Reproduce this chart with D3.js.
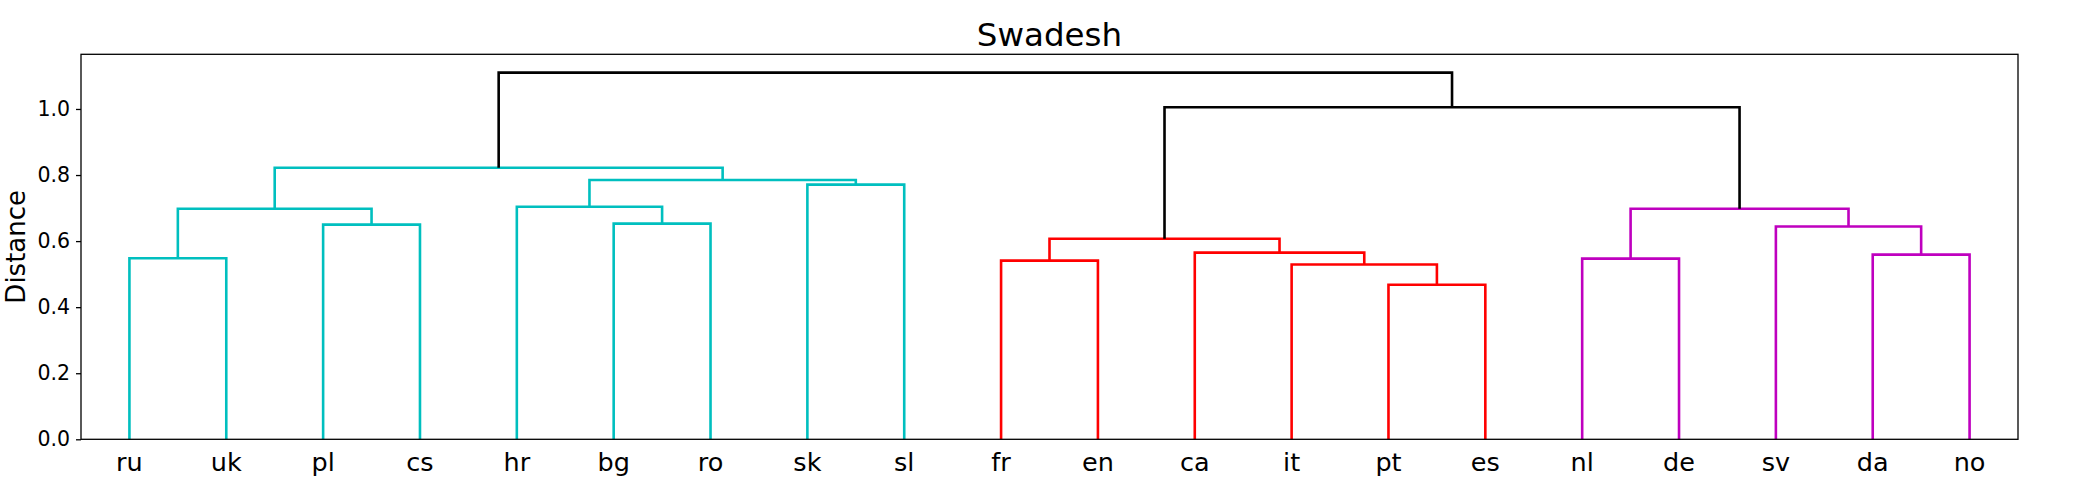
<!DOCTYPE html>
<html lang="en">
	<head>
		<meta charset="utf-8">
		<title>Swadesh</title>
		<script type="text/javascript" src="https://cdn.jsdelivr.net/npm/d3@7"></script>
		<style>
			body { margin: 0; background: #fff; }
			text { font-family: "DejaVu Sans", sans-serif; fill: #000; }
		</style>
	</head>
	<body>
	<script type="text/javascript">
			//data: leaf labels in dendrogram order
			var leaves = ["ru", "uk", "pl", "cs", "hr", "bg", "ro", "sk", "sl", "fr",
										"en", "ca", "it", "pt", "es", "nl", "de", "sv", "da", "no"];
			//merges like a linkage matrix: [child a, child b, distance]
			//ids 0..19 are leaves, merge i gets id 20+i
			var merges = [
				[13, 14, 0.468],
				[12, 20, 0.529],
				[9, 10, 0.541],
				[15, 16, 0.547],
				[0, 1, 0.548],
				[18, 19, 0.559],
				[11, 21, 0.565],
				[22, 26, 0.607],
				[17, 25, 0.644],
				[2, 3, 0.650],
				[5, 6, 0.653],
				[24, 29, 0.698],
				[23, 28, 0.698],
				[4, 30, 0.704],
				[7, 8, 0.771],
				[33, 34, 0.785],
				[31, 35, 0.822],
				[27, 32, 1.005],
				[36, 37, 1.110]
			];
			var yTicks = [0.0, 0.2, 0.4, 0.6, 0.8, 1.0];
			var colorThreshold = 0.9;
			var palette = ["#00bfbf", "#ff0000", "#bf00bf"];
			var aboveColor = "#000000";

			//setup (note: "top" is taken by window.top, so plot* names)
			var W = 2080, H = 494;
			var plotLeft = 81, plotRight = 2018, plotTop = 54.3, plotBottom = 439.3;
			var svg = d3.select("body")
									.append("svg")
									.attr("width", W)
									.attr("height", H);

			var n = leaves.length;
			var maxH = d3.max(merges, function(m) { return m[2]; });
			var x = d3.scaleLinear().domain([0, n]).range([plotLeft, plotRight]);
			var y = d3.scaleLinear().domain([0, maxH * 1.05]).range([plotBottom, plotTop]);

			//node positions
			var nodeX = [], nodeY = [];
			leaves.forEach(function(l, i) { nodeX[i] = i + 0.5; nodeY[i] = 0; });
			merges.forEach(function(m, i) {
				nodeX[n + i] = (nodeX[m[0]] + nodeX[m[1]]) / 2;
				nodeY[n + i] = m[2];
			});

			//cluster colours: walk down from the root, new colour for each
			//subtree that starts under the threshold (left to right)
			var nodeColor = [];
			var nextColor = 0;
			function paint(id, c) {
				if (id < n) return;
				var m = merges[id - n];
				var col = c;
				if (m[2] >= colorThreshold) col = aboveColor;
				else if (c === aboveColor) col = palette[nextColor++ % palette.length];
				nodeColor[id] = col;
				paint(m[0], col);
				paint(m[1], col);
			}
			paint(n + merges.length - 1, aboveColor);

			var links = merges.map(function(m, i) { return { a: m[0], b: m[1], h: m[2], id: n + i }; });

			//links
			svg.append("g").selectAll("path")
					.data(links)
					.enter().append("path")
					.attr("d", function(d) {
						return "M" + x(nodeX[d.a]) + "," + y(nodeY[d.a]) +
									 "V" + y(d.h) + "H" + x(nodeX[d.b]) + "V" + y(nodeY[d.b]);
					})
					.attr("fill", "none")
					.attr("stroke", function(d) { return nodeColor[d.id]; })
					.attr("stroke-width", 2.6)
					.attr("stroke-linejoin", "miter");

			//frame
			svg.append("rect")
					.attr("x", plotLeft)
					.attr("y", plotTop)
					.attr("width", plotRight - plotLeft)
					.attr("height", plotBottom - plotTop)
					.attr("fill", "none")
					.attr("stroke", "#000")
					.attr("stroke-width", 1.3);

			//y axis
			var yAxis = d3.axisLeft(y)
					.tickValues(yTicks)
					.tickFormat(d3.format(".1f"))
					.tickSize(5)
					.tickPadding(6);
			var gy = svg.append("g")
					.attr("transform", "translate(" + plotLeft + ",0)")
					.call(yAxis);
			gy.select(".domain").remove();
			gy.selectAll(".tick line").attr("stroke", "#000").attr("stroke-width", 1.3);
			gy.selectAll(".tick text")
					.style("font-family", "DejaVu Sans")
					.style("font-size", "20.5px")
					.attr("fill", "#000");

			//x labels
			svg.append("g").selectAll("text")
					.data(leaves)
					.enter().append("text")
					.attr("x", function(d, i) { return x(i + 0.5); })
					.attr("y", 471)
					.attr("text-anchor", "middle")
					.style("font-size", "25.5px")
					.text(function(d) { return d; });

			//title and y label
			svg.append("text")
					.attr("x", (plotLeft + plotRight) / 2)
					.attr("y", 45.5)
					.attr("text-anchor", "middle")
					.style("font-size", "32.5px")
					.text("Swadesh");

			svg.append("text")
					.attr("transform", "translate(25," + ((plotTop + plotBottom) / 2) + ") rotate(-90)")
					.attr("text-anchor", "middle")
					.style("font-size", "26px")
					.text("Distance");
	</script>
	</body>
</html>
